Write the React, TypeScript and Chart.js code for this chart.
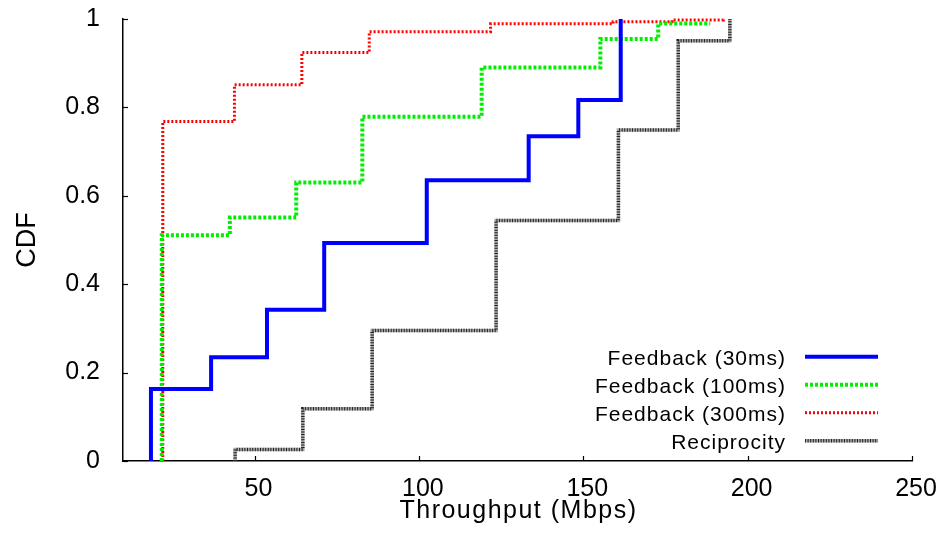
import React, { useEffect, useRef } from "react";
import { Chart, registerables } from "chart.js";

Chart.register(...registerables);

// ---- data ----
const xTicks = [50, 100, 150, 200, 250];
const yTicks = [0, 0.2, 0.4, 0.6, 0.8, 1];

const seriesLabels = ["Feedback (30ms)", "Feedback (100ms)", "Feedback (300ms)", "Reciprocity"];

const fb30X = [18.5, 18.5, 36.8, 53.8, 71.2, 102.4, 133.4, 148.5, 161.4];
const fb30Y = [0, 0.163, 0.235, 0.342, 0.493, 0.635, 0.735, 0.817, 1.0];

const fb100X = [21.8, 21.8, 42.5, 62.7, 82.8, 119.1, 155.2, 172.8, 188.6];
const fb100Y = [0, 0.511, 0.551, 0.63, 0.779, 0.89, 0.955, 0.99, 0.99];

const fb300X = [22.1, 22.1, 43.9, 64.4, 84.9, 121.8, 159.1, 177.0, 192.6];
const fb300Y = [0, 0.768, 0.851, 0.924, 0.971, 0.989, 0.994, 0.998, 1.0];

const recipX = [44.1, 44.1, 64.7, 85.8, 123.5, 160.7, 178.9, 194.6];
const recipY = [0, 0.026, 0.118, 0.295, 0.544, 0.749, 0.951, 1.0];

const xTitle = "Throughput (Mbps)";
const yTitle = "CDF";

const FONT = '"Liberation Sans", Arial, Helvetica, sans-serif';

const toPoints = (xs: number[], ys: number[]) => xs.map((x, i) => ({ x, y: ys[i] }));

const lineStyles = [
  { color: "#0000ff", width: 4, dash: [] as number[] },
  { color: "#00ee00", width: 4, dash: [3, 2] },
  { color: "#ff0000", width: 3, dash: [2, 2] },
  { color: "#222222", width: 3.5, dash: [1, 1.6], base: "#a8a8a8" },
];

const customPlugin = {
  id: "customDecor",
  afterDraw(chart: any) {
    const { ctx, chartArea, scales } = chart;
    const { left, right, top, bottom } = chartArea;
    ctx.save();
    // inward ticks
    ctx.strokeStyle = "#000";
    ctx.lineWidth = 1.2;
    ctx.setLineDash([]);
    for (const v of xTicks) {
      const px = Math.round(scales.x.getPixelForValue(v)) + 0.5;
      ctx.beginPath();
      ctx.moveTo(px, bottom);
      ctx.lineTo(px, bottom - 5);
      ctx.stroke();
    }
    for (const v of yTicks) {
      const py = Math.round(scales.y.getPixelForValue(v)) + 0.5;
      ctx.beginPath();
      ctx.moveTo(left, py);
      ctx.lineTo(left + 5, py);
      ctx.stroke();
    }
    // axis titles
    ctx.fillStyle = "#000";
    ctx.textBaseline = "alphabetic";
    ctx.textAlign = "center";
    ctx.font = `25px ${FONT}`;
    (ctx as any).letterSpacing = "1.5px";
    ctx.fillText(xTitle, (left + right) / 2 + 1, 518);
    (ctx as any).letterSpacing = "0px";
    ctx.save();
    ctx.translate(35, (top + bottom) / 2);
    ctx.rotate(-Math.PI / 2);
    ctx.font = `27px ${FONT}`;
    ctx.fillText(yTitle, 0, 0);
    ctx.restore();

    // legend
    ctx.font = `21px ${FONT}`;
    (ctx as any).letterSpacing = "1px";
    ctx.textAlign = "right";
    const textRight = 786;
    const x0 = 805;
    const x1 = 878;
    const rowY0 = 356.7;
    const rowStep = 28;
    seriesLabels.forEach((label, i) => {
      const y = rowY0 + i * rowStep;
      ctx.fillStyle = "#000";
      ctx.fillText(label, textRight, y + 8.5);
      const st: any = lineStyles[i];
      if (st.base) {
        ctx.setLineDash([]);
        ctx.strokeStyle = st.base;
        ctx.lineWidth = st.width;
        ctx.beginPath();
        ctx.moveTo(x0, y);
        ctx.lineTo(x1, y);
        ctx.stroke();
      }
      ctx.setLineDash(st.dash);
      ctx.strokeStyle = st.color;
      ctx.lineWidth = st.width;
      ctx.lineCap = "butt";
      ctx.beginPath();
      ctx.moveTo(x0, y);
      ctx.lineTo(x1, y);
      ctx.stroke();
    });
    (ctx as any).letterSpacing = "0px";
    ctx.restore();
  },
};

export default function App() {
  const canvasRef = useRef<HTMLCanvasElement | null>(null);

  useEffect(() => {
    const canvas = canvasRef.current;
    if (!canvas) return;
    const common = {
      stepped: true,
      pointRadius: 0,
      pointHoverRadius: 0,
      fill: false,
      borderCapStyle: "butt",
      borderJoinStyle: "miter",
      tension: 0,
      clip: false,
    };
    const chart = new Chart(canvas, {
      type: "line",
      data: {
        datasets: [
          {
            ...common,
            label: seriesLabels[0],
            data: toPoints(fb30X, fb30Y),
            borderColor: lineStyles[0].color,
            borderWidth: lineStyles[0].width,
            borderDash: lineStyles[0].dash,
          },
          {
            ...common,
            label: seriesLabels[1],
            data: toPoints(fb100X, fb100Y),
            borderColor: lineStyles[1].color,
            borderWidth: lineStyles[1].width,
            borderDash: lineStyles[1].dash,
          },
          {
            ...common,
            label: seriesLabels[2],
            data: toPoints(fb300X, fb300Y),
            borderColor: lineStyles[2].color,
            borderWidth: lineStyles[2].width,
            borderDash: lineStyles[2].dash,
          },
          {
            ...common,
            label: seriesLabels[3],
            data: toPoints(recipX, recipY),
            borderColor: lineStyles[3].color,
            borderWidth: lineStyles[3].width,
            borderDash: lineStyles[3].dash,
          },
          {
            ...common,
            label: seriesLabels[3] + " base",
            data: toPoints(recipX, recipY),
            borderColor: (lineStyles[3] as any).base,
            borderWidth: lineStyles[3].width,
            borderDash: [],
          },
        ],
      } as any,
      options: {
        animation: false,
        responsive: false,
        devicePixelRatio: 1,
        layout: { padding: { top: 19, right: 30, left: 0, bottom: 0 } },
        plugins: {
          legend: { display: false },
          tooltip: { enabled: false },
        },
        scales: {
          x: {
            type: "linear",
            min: 10,
            max: 250,
            grid: { display: false },
            border: { display: true, color: "#000", width: 1.5 },
            ticks: {
              color: "#000",
              font: { family: FONT, size: 25 },
              padding: 5,
              labelOffset: 4,
              maxRotation: 0,
              autoSkip: false,
              callback: (v: any) => String(v),
            },
            afterBuildTicks: (s: any) => {
              s.ticks = xTicks.map((v) => ({ value: v }));
            },
            afterFit: (s: any) => {
              s.height = 76;
              s.paddingLeft = 0;
              s.paddingRight = 0;
              s.paddingTop = 0;
              s.paddingBottom = 0;
            },
          },
          y: {
            type: "linear",
            min: 0,
            max: 1,
            grid: { display: false },
            border: { display: true, color: "#000", width: 1.5 },
            ticks: {
              color: "#000",
              font: { family: FONT, size: 25 },
              padding: 15,
              autoSkip: false,
              callback: (v: any) => String(v),
            },
            afterBuildTicks: (s: any) => {
              s.ticks = yTicks.map((v) => ({ value: v }));
            },
            afterFit: (s: any) => {
              s.width = 123;
              s.paddingLeft = 0;
              s.paddingRight = 0;
              s.paddingTop = 0;
              s.paddingBottom = 0;
            },
          },
        },
      } as any,
      plugins: [customPlugin],
    });
    return () => chart.destroy();
  }, []);

  return (
    <div
      style={{
        position: "absolute",
        left: 0,
        top: 0,
        width: 942,
        height: 537,
        background: "#fff",
      }}
    >
      <canvas ref={canvasRef} width={942} height={537} style={{ display: "block" }} />
    </div>
  );
}
